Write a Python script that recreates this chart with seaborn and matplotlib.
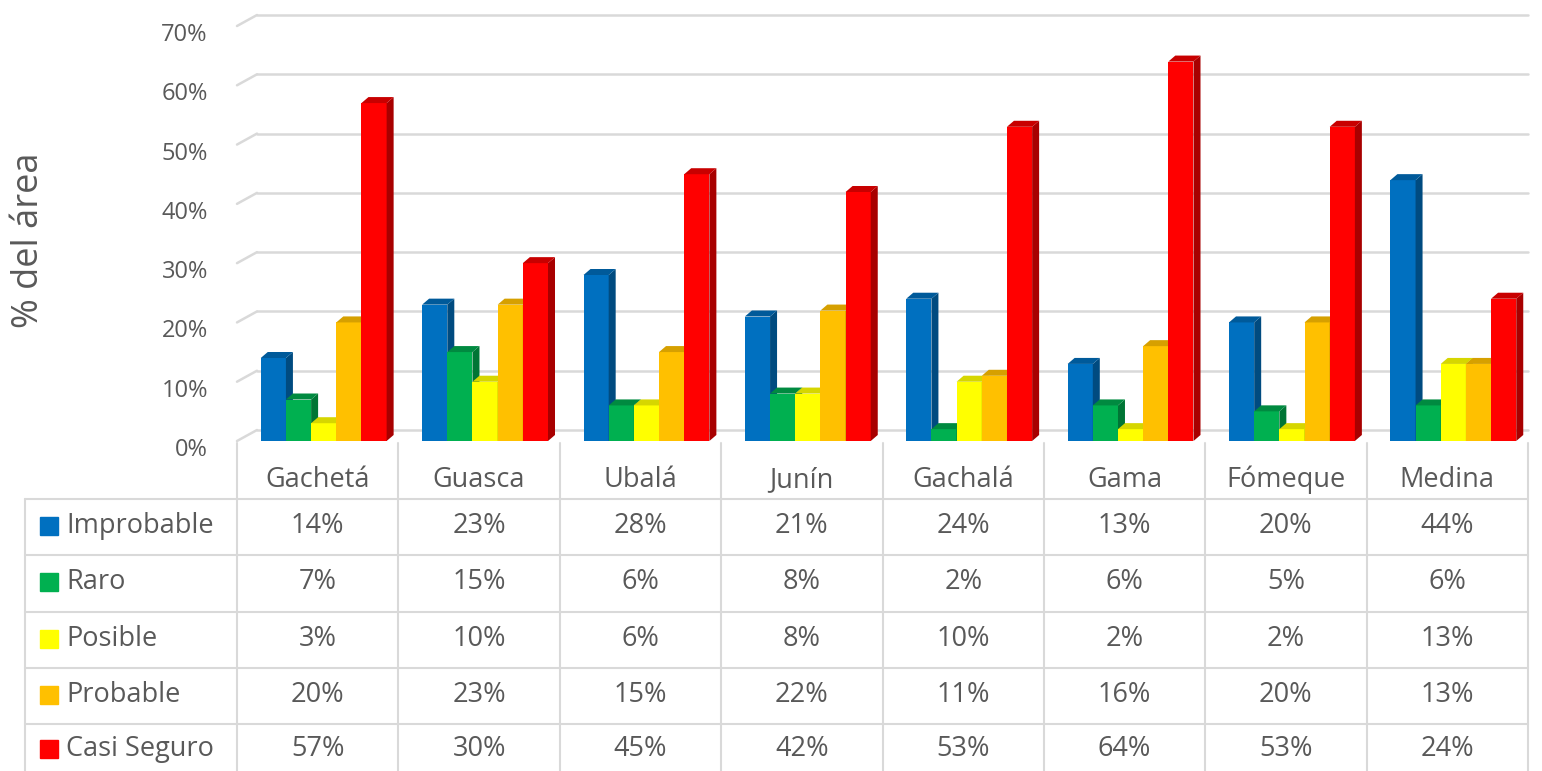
import seaborn as sns
import matplotlib.pyplot as plt
import matplotlib.transforms as mtransforms
from matplotlib.patches import Polygon
from matplotlib.lines import Line2D
import pandas as pd

# ----------- Data -----------
municipios = ["Gachetá", "Guasca", "Ubalá", "Junín", "Gachalá", "Gama", "Fómeque", "Medina"]
categorias = ["Improbable", "Raro", "Posible", "Probable", "Casi Seguro"]
improbable = [14, 23, 28, 21, 24, 13, 20, 44]
raro = [7, 15, 6, 8, 2, 6, 5, 6]
posible = [3, 10, 6, 8, 10, 2, 2, 13]
probable = [20, 23, 15, 22, 11, 16, 20, 13]
casi_seguro = [57, 30, 45, 42, 53, 64, 53, 24]
y_ticks = [0, 10, 20, 30, 40, 50, 60, 70]

colores = ["#0070C0", "#00B050", "#FFFF00", "#FFC000", "#FF0000"]
lados = ["#004B80", "#007535", "#B8B800", "#B88A00", "#A80000"]
techos = ["#005A9A", "#008A40", "#D6D600", "#D6A000", "#C80000"]

series = [improbable, raro, posible, probable, casi_seguro]
rows = []
for cat, vals in zip(categorias, series):
    for m, v in zip(municipios, vals):
        rows.append({"Municipio": m, "Categoria": cat, "Valor": v / 100})
df = pd.DataFrame(rows)

sns.set_style("white")
plt.rcParams["font.family"] = ["Open Sans", "DejaVu Sans"]
gris = "#595959"
linea = "#D9D9D9"

W, H = 1542, 771
fig = plt.figure(figsize=(W / 100, H / 100), dpi=100)


def fx(px):
    return px / W


def fy(py):
    return 1 - py / H


# plot area (front plane): 0% at y=441 px, 70% at y=26 px
ax = fig.add_axes([fx(237), fy(441), fx(1528) - fx(237), fy(26) - fy(441)])
sns.barplot(data=df, x="Municipio", y="Valor", hue="Categoria",
            order=municipios, hue_order=categorias, palette=colores,
            width=0.78, saturation=1, legend=False, ax=ax)
ax.set_xlim(-0.5, 7.5)
ax.set_ylim(0, 0.70)

cat_px = 1291 / 8
val_px = 415 / 0.70
shift = 6 / cat_px
dx, dy = 7 / cat_px, 6 / val_px
gx, gy = 20 / cat_px, 11 / val_px

# fake 3D: side and top faces for each bar
bars = list(ax.patches)
n = len(municipios)
for i, p in enumerate(bars):
    k = i // n
    p.set_x(p.get_x() + shift)
    p.set_zorder(2 + k)
    p.set_edgecolor("none")
    x0, w, h = p.get_x(), p.get_width(), p.get_height()
    side = Polygon([(x0 + w, 0), (x0 + w + dx, dy), (x0 + w + dx, h + dy), (x0 + w, h)],
                   closed=True, facecolor=lados[k], edgecolor="none", zorder=2 + k)
    top = Polygon([(x0, h), (x0 + w, h), (x0 + w + dx, h + dy), (x0 + dx, h + dy)],
                  closed=True, facecolor=techos[k], edgecolor="none", zorder=2 + k)
    ax.add_patch(side)
    ax.add_patch(top)

# back-wall gridlines with perspective stubs
for t in y_ticks:
    v = t / 100
    ax.plot([-0.5, -0.5 + gx], [v, v + gy], color=linea, lw=1.8, zorder=0.5, clip_on=False)
    ax.plot([-0.5 + gx, 7.5], [v + gy, v + gy], color=linea, lw=1.8, zorder=0.5, clip_on=False)

ax.set_yticks([t / 100 for t in y_ticks])
ax.set_yticklabels([f"{t}%" for t in y_ticks])
ax.tick_params(axis="y", length=0, pad=21, labelsize=17, labelcolor=gris)
off = mtransforms.ScaledTranslation(0, -6 / 100, fig.dpi_scale_trans)
for lab in ax.get_yticklabels():
    lab.set_transform(lab.get_transform() + off)
ax.set_xticks([])
ax.set_xlabel("")
ax.set_ylabel("% del área", fontsize=26, color=gris)
ax.yaxis.set_label_coords((47 - 237) / 1291, (441 - 240) / 415)
for s in ax.spines.values():
    s.set_visible(False)

# ----------- Data table below the chart -----------
tr = mtransforms.blended_transform_factory(ax.transData, fig.transFigure)
x_left = -0.5 - (237 - 25) / cat_px
row_lines = [499, 555, 612, 668, 724]
row_centers = [526, 582, 639, 695, 749]


def hline(x0, x1, py):
    fig.add_artist(Line2D([x0, x1], [fy(py), fy(py)], transform=tr, color=linea, lw=1.5))


def vline(x, py0, py1):
    fig.add_artist(Line2D([x, x], [fy(py0), fy(py1)], transform=tr, color=linea, lw=1.5))


for py in row_lines:
    hline(x_left, 7.5, py)
vline(x_left, row_lines[0], H)
for i in range(n + 1):
    vline(i - 0.5, 443, H)

for i, m in enumerate(municipios):
    fig.text(i, fy(480), m, transform=tr, ha="center", va="center", fontsize=19.5, color=gris)

for k, (cat, vals) in enumerate(zip(categorias, series)):
    yc = fy(row_centers[k])
    fig.add_artist(Line2D([x_left + 24 / cat_px], [yc], transform=tr, marker="s",
                          markersize=12.5, color=colores[k], linestyle="none"))
    fig.text(x_left + 41 / cat_px, yc, cat, transform=tr, ha="left", va="center",
             fontsize=19.5, color=gris)
    for i, v in enumerate(vals):
        fig.text(i, yc, f"{v}%", transform=tr, ha="center", va="center",
                 fontsize=19.5, color=gris)

fig.savefig("out.png", dpi=100)
